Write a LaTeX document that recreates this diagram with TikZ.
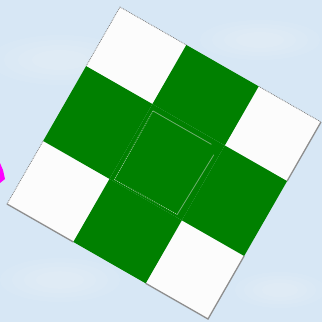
\documentclass[tikz,border=0pt]{standalone}
\usetikzlibrary{calc}
\definecolor{bg}{HTML}{D7E7F5}
\definecolor{cellgreen}{HTML}{008000}
\definecolor{cellwhite}{HTML}{FCFCFC}
\definecolor{edgegray}{HTML}{7A7A7A}
\definecolor{innerline}{HTML}{6FAE6F}
\definecolor{magentatip}{HTML}{FF00FF}
\tikzset{
  dotedge/.style={edgegray, line width=0.7pt, dash pattern=on 0.9pt off 0.9pt},
  solidedge/.style={edgegray!85, line width=1.3pt},
  innersolid/.style={innerline, line width=0.8pt},
  innerdot/.style={innerline!70!white, line width=0.8pt, dash pattern=on 1pt off 1pt},
  cloud/.style={white, opacity=0.07},
}
\begin{document}
\begin{tikzpicture}[x=1pt,y=-1pt]
\useasboundingbox (0,0) rectangle (322,322);
\fill[bg] (0,0) rectangle (322,322);
% soft clouds
\foreach \cx/\cy/\rx/\ry in {60/60/70/25,260/40/60/20,60/280/60/22,280/290/45/18}{
  \foreach \s in {1,0.8,0.6,0.4}{
    \fill[cloud] (\cx,\cy) ellipse ({\s*\rx} and {\s*\ry});
  }
}
% magenta tip at left edge
\fill[magentatip] (0,163) -- (3,170) -- (5,179) -- (0,183) -- cycle;
% frame of the board
\coordinate (T) at (120,7);
\coordinate (U) at (201,115);
\coordinate (V) at (-113,197);
\foreach \i/\u in {0/0,1/0.33,2/0.69,3/1}{
  \foreach \j/\v in {0/0,1/0.30,2/0.68,3/1}{
    \coordinate (p\i\j) at ($(T)+\u*(U)+\v*(V)$);
  }
}
% cells
\foreach \i/\ip/\j/\jp/\c in {0/1/0/1/cellwhite,2/3/0/1/cellwhite,0/1/2/3/cellwhite,2/3/2/3/cellwhite}{
  \fill[\c] (p\i\j) -- (p\ip\j) -- (p\ip\jp) -- (p\i\jp) -- cycle;
}
% borders along white cells
\draw[dotedge] (p10) -- (p00) -- (p01);
\draw[dotedge] (p20) -- (p30);
\draw[dotedge] (p02) -- (p03);
\draw[solidedge] (p30) -- (p31);
\draw[solidedge] (p03) -- (p13);
\draw[solidedge] (p23) -- (p33) -- (p32);
% green cells
\foreach \i/\ip/\j/\jp in {1/2/0/1,0/1/1/2,1/2/1/2,2/3/1/2,1/2/2/3}{
  \fill[cellgreen] (p\i\j) -- (p\ip\j) -- (p\ip\jp) -- (p\i\jp) -- cycle;
}
% inner outline in the centre
\coordinate (qa) at ($(T)+0.347*(U)+0.325*(V)$);
\coordinate (qb) at ($(T)+0.670*(U)+0.325*(V)$);
\coordinate (qc) at ($(T)+0.660*(U)+0.668*(V)$);
\coordinate (qd) at ($(T)+0.350*(U)+0.672*(V)$);
\coordinate (qb1) at ($(qa)!0.9!(qb)$);
\coordinate (qb2) at ($(qb)!0.1!(qc)$);
\draw[innersolid] (qa) -- (qb1);
\draw[innersolid] (qb2) -- (qc);
\draw[innerdot] (qa) -- (qd) -- (qc);
\end{tikzpicture}
\end{document}
